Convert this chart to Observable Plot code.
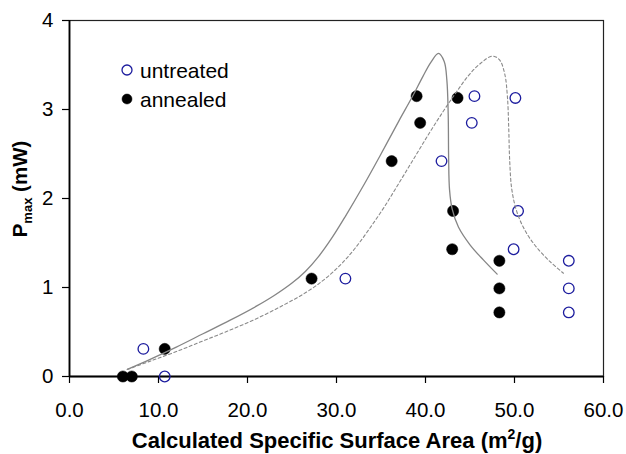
<!DOCTYPE html>
<html>
<head>
<meta charset="utf-8">
<script src="https://cdn.jsdelivr.net/npm/d3@7"></script>
<script src="https://cdn.jsdelivr.net/npm/@observablehq/plot@0.6"></script>
<style>
  html, body { margin: 0; padding: 0; background: #fff; }
  #chart { width: 626px; height: 454px; }
</style>
</head>
<body>
<div id="chart"></div>
<script>
// ---- data ----
const seriesNames = ["untreated", "annealed"];

const annealedX = [6.0, 7.0, 10.7, 27.2, 36.2, 39.0, 39.4, 43.6, 43.1, 43.0, 48.3, 48.3, 48.3];
const annealedY = [0, 0, 0.31, 1.10, 2.42, 3.15, 2.85, 3.13, 1.86, 1.43, 1.30, 0.99, 0.72];

const untreatedX = [8.3, 10.7, 31.0, 41.8, 45.5, 45.2, 50.1, 50.4, 49.9, 56.1, 56.1, 56.1];
const untreatedY = [0.31, 0, 1.10, 2.42, 3.15, 2.85, 3.13, 1.86, 1.43, 1.30, 0.99, 0.72];

// fitted guide curves
const fitAnnealedX = [6.5, 9, 12, 15, 18, 21, 23, 25, 26.5, 28, 29.5, 31, 33, 35, 37, 38.5, 39.7, 40.6, 41.45, 42.1, 42.4, 42.55, 42.6, 42.7, 43.0, 43.7, 45.0, 46.5, 48.05];
const fitAnnealedY = [0.08, 0.19, 0.33, 0.48, 0.63, 0.79, 0.91, 1.05, 1.18, 1.35, 1.56, 1.80, 2.14, 2.50, 2.87, 3.14, 3.37, 3.53, 3.63, 3.54, 3.33, 2.95, 2.45, 2.10, 1.88, 1.68, 1.48, 1.31, 1.15];

const fitUntreatedX = [6.5, 9, 12, 15, 18, 21, 24, 26.5, 28.5, 30.3, 32, 33.7, 35.4, 37, 38.7, 40.4, 42, 43.5, 44.9, 46.2, 47.5, 48.3, 48.9, 49.2, 49.35, 49.45, 49.7, 50.3, 51.3, 52.5, 54, 55.5];
const fitUntreatedY = [0.08, 0.17, 0.28, 0.40, 0.52, 0.65, 0.80, 0.94, 1.08, 1.24, 1.43, 1.66, 1.91, 2.17, 2.45, 2.73, 2.98, 3.20, 3.39, 3.52, 3.60, 3.56, 3.40, 3.15, 2.80, 2.45, 2.10, 1.84, 1.62, 1.45, 1.29, 1.16];

const xTicks = [0, 10, 20, 30, 40, 50, 60];
const yTicks = [0, 1, 2, 3, 4];

// ---- tables ----
const zip = (xs, ys) => xs.map((x, i) => ({x, y: ys[i]}));
const annealed = zip(annealedX, annealedY);
const untreated = zip(untreatedX, untreatedY);
const fitAnnealed = zip(fitAnnealedX, fitAnnealedY);
const fitUntreated = zip(fitUntreatedX, fitUntreatedY);

const FONT = "Arial, 'Liberation Sans', Helvetica, sans-serif";
const BLUE = "#1c1c9e";

const svg = Plot.plot({
  width: 626,
  height: 454,
  marginLeft: 69,
  marginRight: 23,
  marginTop: 20,
  marginBottom: 78,
  style: {fontFamily: FONT, fontSize: "20px", color: "#000", background: "#fff", overflow: "visible"},
  x: {domain: [0, 60]},
  y: {domain: [0, 4]},
  marks: [
    Plot.frame({stroke: "#222", strokeWidth: 1.2}),
    Plot.axisX({ticks: xTicks, tickFormat: d => d.toFixed(1), tickSize: 7, tickPadding: 19, label: null, fontSize: 20.5, strokeWidth: 1.2}),
    Plot.axisY({ticks: yTicks, tickFormat: d => String(d), tickSize: 7, tickPadding: 9, label: null, fontSize: 20.5, strokeWidth: 1.2}),
    Plot.ruleX([0], {stroke: "#000", strokeWidth: 1.8}),
    Plot.ruleY([0], {stroke: "#000", strokeWidth: 1.8}),
    Plot.dot(annealed, {x: "x", y: "y", r: 5.6, fill: "#000", stroke: "#000", strokeWidth: 0.5}),
    Plot.dot(untreated, {x: "x", y: "y", r: 5.3, fill: "none", stroke: BLUE, strokeWidth: 1.3}),
    Plot.line(fitAnnealed, {x: "x", y: "y", curve: "catmull-rom", stroke: "#858585", strokeWidth: 1.3}),
    Plot.line(fitUntreated, {x: "x", y: "y", curve: "catmull-rom", stroke: "#8a8a8a", strokeWidth: 1.1, strokeDasharray: "3,2.5"})
  ]
});

const s = d3.select(svg);

// x-axis title with superscript
const xt = s.append("text")
  .attr("x", 337).attr("y", 448)
  .attr("text-anchor", "middle")
  .attr("font-family", FONT).attr("font-weight", "bold").attr("font-size", 22)
  .attr("fill", "#000");
xt.append("tspan").text("Calculated Specific Surface Area (m");
xt.append("tspan").attr("font-size", 14).attr("dy", -9).text("2");
xt.append("tspan").attr("dy", 9).text("/g)");

// y-axis title with subscript
const yt = s.append("text")
  .attr("transform", "translate(27,189) rotate(-90)")
  .attr("text-anchor", "middle")
  .attr("font-family", FONT).attr("font-weight", "bold").attr("font-size", 20.5)
  .attr("fill", "#000");
yt.append("tspan").text("P");
yt.append("tspan").attr("font-size", 13).attr("dy", 5).text("max");
yt.append("tspan").attr("dy", -5).text(" (mW)");

// legend
const legendItems = [
  {name: seriesNames[0], fill: "none", stroke: BLUE, cy: 70},
  {name: seriesNames[1], fill: "#000", stroke: "#000", cy: 99}
];
const lg = s.append("g").attr("text-anchor", "start");
legendItems.forEach(it => {
  lg.append("circle").attr("cx", 127).attr("cy", it.cy).attr("r", 5)
    .attr("fill", it.fill).attr("stroke", it.stroke).attr("stroke-width", it.fill === "none" ? 1.3 : 0.5);
  lg.append("text").attr("x", 140).attr("y", it.cy + 7.5)
    .attr("text-anchor", "start")
    .attr("font-family", FONT).attr("font-size", 21).attr("fill", "#000")
    .text(it.name);
});

document.getElementById("chart").appendChild(svg);
</script>
</body>
</html>
